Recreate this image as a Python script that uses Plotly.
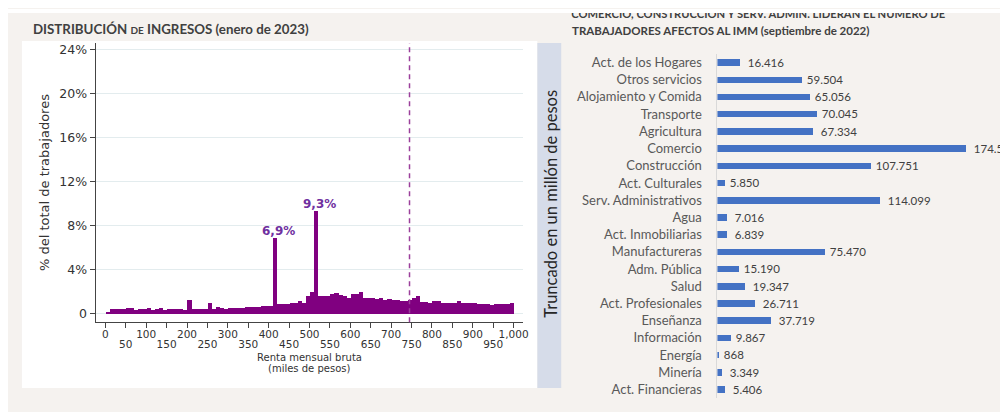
import plotly.graph_objects as go

# ---- datos: distribución de ingresos (tramos de 10 mil pesos, 0 a 1.000) ----
tramos_inicio = list(range(0, 1000, 10))
porcentaje = [
    0.15, 0.45, 0.42, 0.40, 0.42, 0.50, 0.48, 0.32, 0.45, 0.38,
    0.52, 0.36, 0.45, 0.50, 0.32, 0.42, 0.44, 0.38, 0.42, 0.34,
    1.25, 0.40, 0.45, 0.44, 0.42, 0.95, 0.45, 0.62, 0.48, 0.45,
    0.52, 0.48, 0.50, 0.46, 0.62, 0.58, 0.56, 0.58, 0.70, 0.66,
    0.68, 6.90, 0.88, 0.86, 0.90, 0.95, 1.00, 1.12, 0.98, 1.55,
    1.95, 9.30, 1.60, 1.60, 1.58, 1.78, 1.85, 1.70, 1.55, 1.42,
    1.78, 1.82, 1.92, 1.45, 1.38, 1.40, 1.35, 1.38, 1.25, 1.35,
    1.22, 1.20, 1.18, 1.10, 1.20, 1.40, 1.62, 1.05, 1.02, 1.00,
    1.12, 1.10, 1.00, 0.98, 0.96, 1.00, 1.15, 0.98, 0.96, 0.92,
    0.95, 0.90, 0.85, 0.82, 0.80, 0.82, 0.90, 0.82, 0.85, 0.92,
]
ancho_tramo = 10
linea_vertical = 745
picos_x = [415, 515]
picos_val = [6.9, 9.3]
picos_txt = ["6,9%", "9,3%"]

x_ticks = list(range(0, 1001, 50))
x_ticks_pares = [v for v in x_ticks if v % 100 == 0]
x_ticks_impares = [v for v in x_ticks if v % 100 != 0]
x_labels_pares = [f"{v:,}" for v in x_ticks_pares]
x_labels_impares = [str(v) for v in x_ticks_impares]
y_ticks = [0, 4, 8, 12, 16, 20, 24]
y_tick_labels = ["0", "4%", "8%", "12%", "16%", "20%", "24%"]

# ---- datos: trabajadores afectos al IMM por sector ----
sectores = [
    "Act. de los Hogares", "Otros servicios", "Alojamiento y Comida", "Transporte",
    "Agricultura", "Comercio", "Construcción", "Act. Culturales",
    "Serv. Administrativos", "Agua", "Act. Inmobiliarias", "Manufactureras",
    "Adm. Pública", "Salud", "Act. Profesionales", "Enseñanza", "Información",
    "Energía", "Minería", "Act. Financieras",
]
trabajadores = [
    16416, 59504, 65056, 70045, 67334, 174576, 107751, 5850, 114099, 7016,
    6839, 75470, 15190, 19347, 26711, 37719, 9867, 868, 3349, 5406,
]

titulo_izq = "<b>DISTRIBUCIÓN <span style='font-size:10px'>DE</span> INGRESOS (enero de 2023)</b>"
titulo_der_1 = "<b>COMERCIO, CONSTRUCCIÓN Y SERV. ADMIN. LIDERAN EL NÚMERO DE</b>"
titulo_der_2 = "<b>TRABAJADORES AFECTOS AL IMM (septiembre de 2022)</b>"

# la página deja 8px de margen arriba y a la izquierda
OFF = 8
W, H = 1008 - OFF, 412 - OFF


def px(x):
    return (x - OFF) / W


def py(y):
    return 1 - (y - OFF) / H


BEIGE = "#f5f2ef"
MORADO = "#800080"
AZUL = "#4472c4"
GRIS = "#404040"
FUENTE_H = "DejaVu Sans"

fig = go.Figure()

# Histograma
fig.add_trace(
    go.Bar(
        x=[t + ancho_tramo / 2 for t in tramos_inicio],
        y=porcentaje,
        width=ancho_tramo,
        marker=dict(color=MORADO, line=dict(width=0)),
        xaxis="x", yaxis="y",
        showlegend=False,
    )
)
# traza vacía para que se dibuje el segundo renglón de etiquetas del eje x
fig.add_trace(go.Scatter(x=[], y=[], xaxis="x3", yaxis="y", showlegend=False, hoverinfo="skip"))

# Barras horizontales por sector
fig.add_trace(
    go.Bar(
        x=trabajadores,
        y=sectores,
        orientation="h",
        marker=dict(color=AZUL, line=dict(width=0)),
        text=["\u00a0\u2009" + f"{v:,}".replace(",", ".") for v in trabajadores],
        textposition="outside",
        constraintext="none",
        cliponaxis=False,
        textfont=dict(family="Lato", size=11.5, color=GRIS),
        xaxis="x2", yaxis="y2",
        showlegend=False,
        width=0.38,
    )
)

# Primera línea del título derecho, recortada por el borde superior
fig.add_trace(
    go.Scatter(
        x=[0], y=[0.81], mode="text", text=[titulo_der_1],
        textposition="middle right", cliponaxis=True,
        textfont=dict(family="Lato", size=11.2, color=GRIS),
        xaxis="x4", yaxis="y4", showlegend=False, hoverinfo="skip",
    )
)

for xv, yv, t in zip(picos_x, picos_val, picos_txt):
    fig.add_annotation(
        x=xv, y=yv, xref="x", yref="y", text=f"<b>{t}</b>",
        showarrow=False, yanchor="bottom", yshift=-2, xshift=4,
        font=dict(family=FUENTE_H, size=12, color="#7030a0"),
    )

shapes = [
    # franja blanca superior
    dict(type="rect", xref="paper", yref="paper", x0=0, x1=1, y0=py(12), y1=1,
         fillcolor="white", line_width=0, layer="below"),
    # panel blanco del histograma
    dict(type="rect", xref="paper", yref="paper", x0=px(22), x1=px(540), y0=py(388), y1=py(40),
         fillcolor="white", line_width=0, layer="below"),
    # banda azul con texto vertical
    dict(type="rect", xref="paper", yref="paper", x0=px(540), x1=px(564), y0=py(388), y1=py(42),
         fillcolor="#d6dce9", line_width=0, layer="below"),
    # línea vertical punteada
    dict(type="line", xref="x", yref="y domain", x0=linea_vertical, x1=linea_vertical, y0=0, y1=1,
         line=dict(color="#9b3f9b", width=1.5, dash="5px,4px")),
]

annotations_extra = [
    dict(text=titulo_izq,
         x=px(31), y=py(28), xref="paper", yref="paper", xanchor="left", yanchor="middle",
         showarrow=False, font=dict(family="Lato", size=13.3, color=GRIS)),
    dict(text=titulo_der_2,
         x=px(573), y=py(30), xref="paper", yref="paper", xanchor="left", yanchor="middle",
         showarrow=False, font=dict(family="Lato", size=11.5, color=GRIS)),
    dict(text="Truncado en un millón de pesos", textangle=-90,
         x=px(553), y=py(203), xref="paper", yref="paper", xanchor="center", yanchor="middle",
         showarrow=False, font=dict(family="Lato", size=16.5, color="#262626")),
    dict(text="Renta mensual bruta", x=500, xref="x", y=py(357), yref="paper",
         xanchor="center", yanchor="middle", showarrow=False,
         font=dict(family=FUENTE_H, size=10, color="#333")),
    dict(text="(miles de pesos)", x=500, xref="x", y=py(368), yref="paper",
         xanchor="center", yanchor="middle", showarrow=False,
         font=dict(family=FUENTE_H, size=10, color="#333")),
]
for a in annotations_extra:
    fig.add_annotation(**a)

fig.update_layout(
    width=W, height=H,
    margin=dict(l=0, r=0, t=0, b=0),
    paper_bgcolor=BEIGE,
    plot_bgcolor="rgba(0,0,0,0)",
    bargap=0,
    shapes=shapes,
    xaxis=dict(
        domain=[px(96), px(526)], range=[-24, 1024],
        tickvals=x_ticks, ticktext=[x_labels_pares[x_ticks_pares.index(v)] if v in x_ticks_pares else ""
                                    for v in x_ticks],
        tickangle=0,
        tickfont=dict(family=FUENTE_H, size=10.5, color="#333"),
        ticks="outside", ticklen=5, tickcolor="#444", ticklabelstandoff=-3,
        showline=True, linecolor="#444", showgrid=False, zeroline=False,
    ),
    xaxis3=dict(
        overlaying="x", anchor="y", side="bottom", range=[-24, 1024],
        tickvals=x_ticks_impares, ticktext=x_labels_impares, tickangle=0,
        tickfont=dict(family=FUENTE_H, size=10.5, color="#333"),
        ticks="", ticklabelstandoff=14,
        showline=False, showgrid=False, zeroline=False,
    ),
    yaxis=dict(
        domain=[py(322), py(42)], range=[-0.8, 24.6],
        tickvals=y_ticks, ticktext=y_tick_labels,
        tickfont=dict(family=FUENTE_H, size=12.5, color="#333"),
        ticks="outside", ticklen=5, tickcolor="#444",
        showline=True, linecolor="#444", showgrid=True, gridcolor="#e3ecee", zeroline=False,
        title=dict(text="% del total de trabajadores", standoff=6,
                   font=dict(family=FUENTE_H, size=13, color="#333")),
    ),
    xaxis2=dict(
        domain=[px(721), 1], range=[0, 199900], anchor="y2",
        visible=False,
    ),
    yaxis2=dict(
        domain=[py(398), py(53)], anchor="x2", autorange="reversed",
        tickfont=dict(family="Lato", size=13, color="#595959"),
        showline=True, linecolor="#d9d9d9", ticks="", ticklabelstandoff=12,
        showgrid=False, zeroline=False,
    ),
    xaxis4=dict(domain=[px(574), 1], range=[0, 1], visible=False, fixedrange=True, anchor="y4"),
    yaxis4=dict(domain=[py(25), py(12)], range=[0, 1], visible=False, fixedrange=True,
                anchor="x4"),
)

fig.write_html("out.html")
